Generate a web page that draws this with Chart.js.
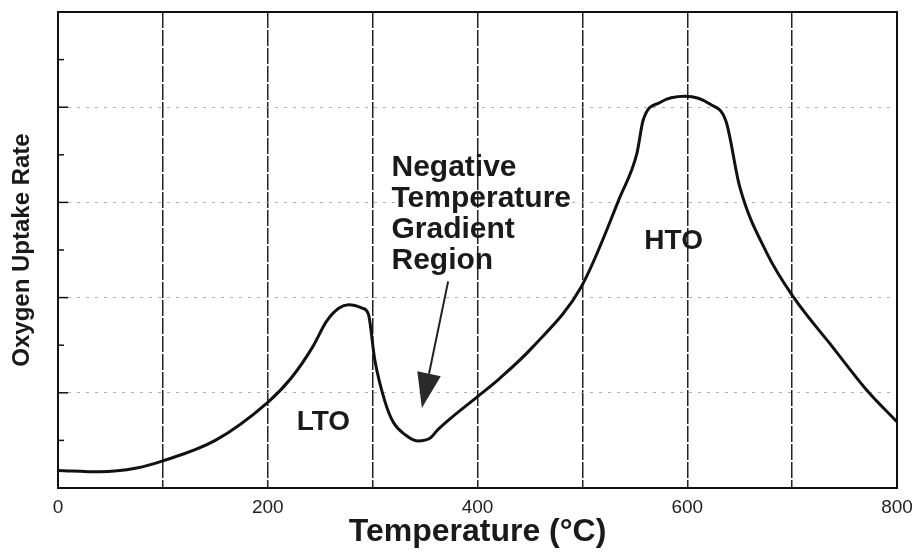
<!DOCTYPE html>
<html>
<head>
<meta charset="utf-8">
<script src="https://cdn.jsdelivr.net/npm/chart.js@4.4.0/dist/chart.umd.min.js"></script>
<style>
  html, body { margin: 0; padding: 0; background: #fff; }
  #wrap { width: 922px; height: 555px; position: relative; }
</style>
</head>
<body>
<div id="wrap"><canvas id="chart"></canvas></div>
<script>
// curva (temperatura em °C, taxa em unidades arbitrarias 0-10)
const temperaturas = [0, 40, 75, 100, 150, 200, 222, 243, 256, 268, 277, 290, 296, 302, 312, 320, 331, 343, 355, 362,
    400, 421, 453, 499, 536, 552, 558, 574, 598, 622, 637, 650, 676, 701, 739, 771, 800];
const taxas = [0.37, 0.34, 0.42, 0.57, 1.0, 1.8, 2.3, 2.97, 3.5, 3.78, 3.85, 3.78, 3.65, 2.7, 1.8, 1.37, 1.12, 0.99, 1.05, 1.22,
    1.92, 2.3, 2.97, 4.23, 6.12, 7.03, 7.73, 8.1, 8.23, 8.06, 7.7, 6.33, 4.93, 4.02, 2.95, 2.06, 1.39];
const rotulosX = [0, 200, 400, 600, 800];
const textoRegiao = ['Negative', 'Temperature', 'Gradient', 'Region'];

const FONTE = '"Liberation Sans", Arial, sans-serif';

// textos, seta e moldura desenhados por cima
const anotacoes = {
    id: 'anotacoes',
    afterDatasetsDraw(chart) {
        const { ctx, chartArea: ca, scales: { x, y } } = chart;
        ctx.save();
        ctx.setLineDash([]);
        ctx.strokeStyle = '#111';
        ctx.lineWidth = 2;
        ctx.strokeRect(ca.left, ca.top, ca.right - ca.left, ca.bottom - ca.top);

        // marquinhas internas no eixo y
        ctx.lineWidth = 1.5;
        for (let v = 1; v < 10; v++) {
            const py = y.getPixelForValue(v);
            ctx.beginPath();
            ctx.moveTo(ca.left, py);
            ctx.lineTo(ca.left + (v % 2 === 0 ? 10 : 6), py);
            ctx.stroke();
        }

        ctx.fillStyle = '#1a1a1a';
        ctx.font = 'bold 28px ' + FONTE;
        ctx.textAlign = 'center';
        ctx.textBaseline = 'middle';
        ctx.fillText('LTO', x.getPixelForValue(253), y.getPixelForValue(1.39));
        ctx.fillText('HTO', x.getPixelForValue(587), y.getPixelForValue(5.18));

        ctx.font = 'bold 30px ' + FONTE;
        ctx.textAlign = 'left';
        ctx.textBaseline = 'alphabetic';
        const x0 = x.getPixelForValue(318);
        const y0 = y.getPixelForValue(6.55);
        textoRegiao.forEach((t, i) => ctx.fillText(t, x0, y0 + i * 31));

        // seta
        const sx = x.getPixelForValue(372), sy = y.getPixelForValue(4.34);
        const tx = x.getPixelForValue(347), ty = y.getPixelForValue(1.68);
        const dx = tx - sx, dy = ty - sy, len = Math.hypot(dx, dy);
        const ux = dx / len, uy = dy / len;
        const bx = tx - ux * 35, by = ty - uy * 35;
        ctx.strokeStyle = '#222';
        ctx.lineWidth = 2;
        ctx.beginPath();
        ctx.moveTo(sx, sy);
        ctx.lineTo(bx, by);
        ctx.stroke();
        ctx.fillStyle = '#2a2a2a';
        ctx.beginPath();
        ctx.moveTo(tx, ty);
        ctx.lineTo(bx - uy * 12, by + ux * 12);
        ctx.lineTo(bx + uy * 12, by - ux * 12);
        ctx.closePath();
        ctx.fill();
        ctx.restore();
    }
};

const ctx = document.getElementById('chart').getContext('2d');
const chart = new Chart(ctx, {
    type: 'line',
    data: {
        datasets: [{
            label: 'Oxygen Uptake Rate',
            data: temperaturas.map((t, i) => ({ x: t, y: taxas[i] })),
            borderColor: '#111',
            borderWidth: 3,
            pointRadius: 0,
            fill: false,
            cubicInterpolationMode: 'monotone'
        }]
    },
    options: {
        responsive: true,
        maintainAspectRatio: false,
        animation: false,
        layout: { padding: { top: 12, right: 25, left: 0, bottom: 0 } },
        plugins: { legend: { display: false }, tooltip: { enabled: false } },
        scales: {
            x: {
                type: 'linear',
                min: 0,
                max: 800,
                afterFit: s => { s.height = 67; },
                ticks: {
                    stepSize: 100,
                    autoSkip: false,
                    maxRotation: 0,
                    padding: 8,
                    color: '#222',
                    font: { family: FONTE, size: 19 },
                    callback: v => rotulosX.includes(v) ? String(v) : ''
                },
                grid: { color: '#222', lineWidth: 1.5, drawTicks: false },
                border: { display: true, color: '#111', width: 2, dash: [16, 2] },
                title: {
                    display: true,
                    text: 'Temperature (°C)',
                    color: '#1a1a1a',
                    font: { family: FONTE, size: 32, weight: 'bold' },
                    padding: { top: 0, bottom: 4 }
                }
            },
            y: {
                min: 0,
                max: 10,
                afterFit: s => { s.width = 58; },
                ticks: { stepSize: 1, display: false },
                grid: {
                    drawTicks: false,
                    lineWidth: 1,
                    color: c => (c.tick && c.tick.value % 2 === 0 && c.tick.value > 0 && c.tick.value < 10) ? '#b0b0b0' : 'rgba(0,0,0,0)'
                },
                border: { display: true, color: '#111', width: 2, dash: [3, 6] },
                title: {
                    display: true,
                    text: 'Oxygen Uptake Rate',
                    color: '#1a1a1a',
                    font: { family: FONTE, size: 24, weight: 'bold' },
                    padding: { top: 8, bottom: 0 }
                }
            }
        }
    },
    plugins: [anotacoes]
});
</script>
</body>
</html>
